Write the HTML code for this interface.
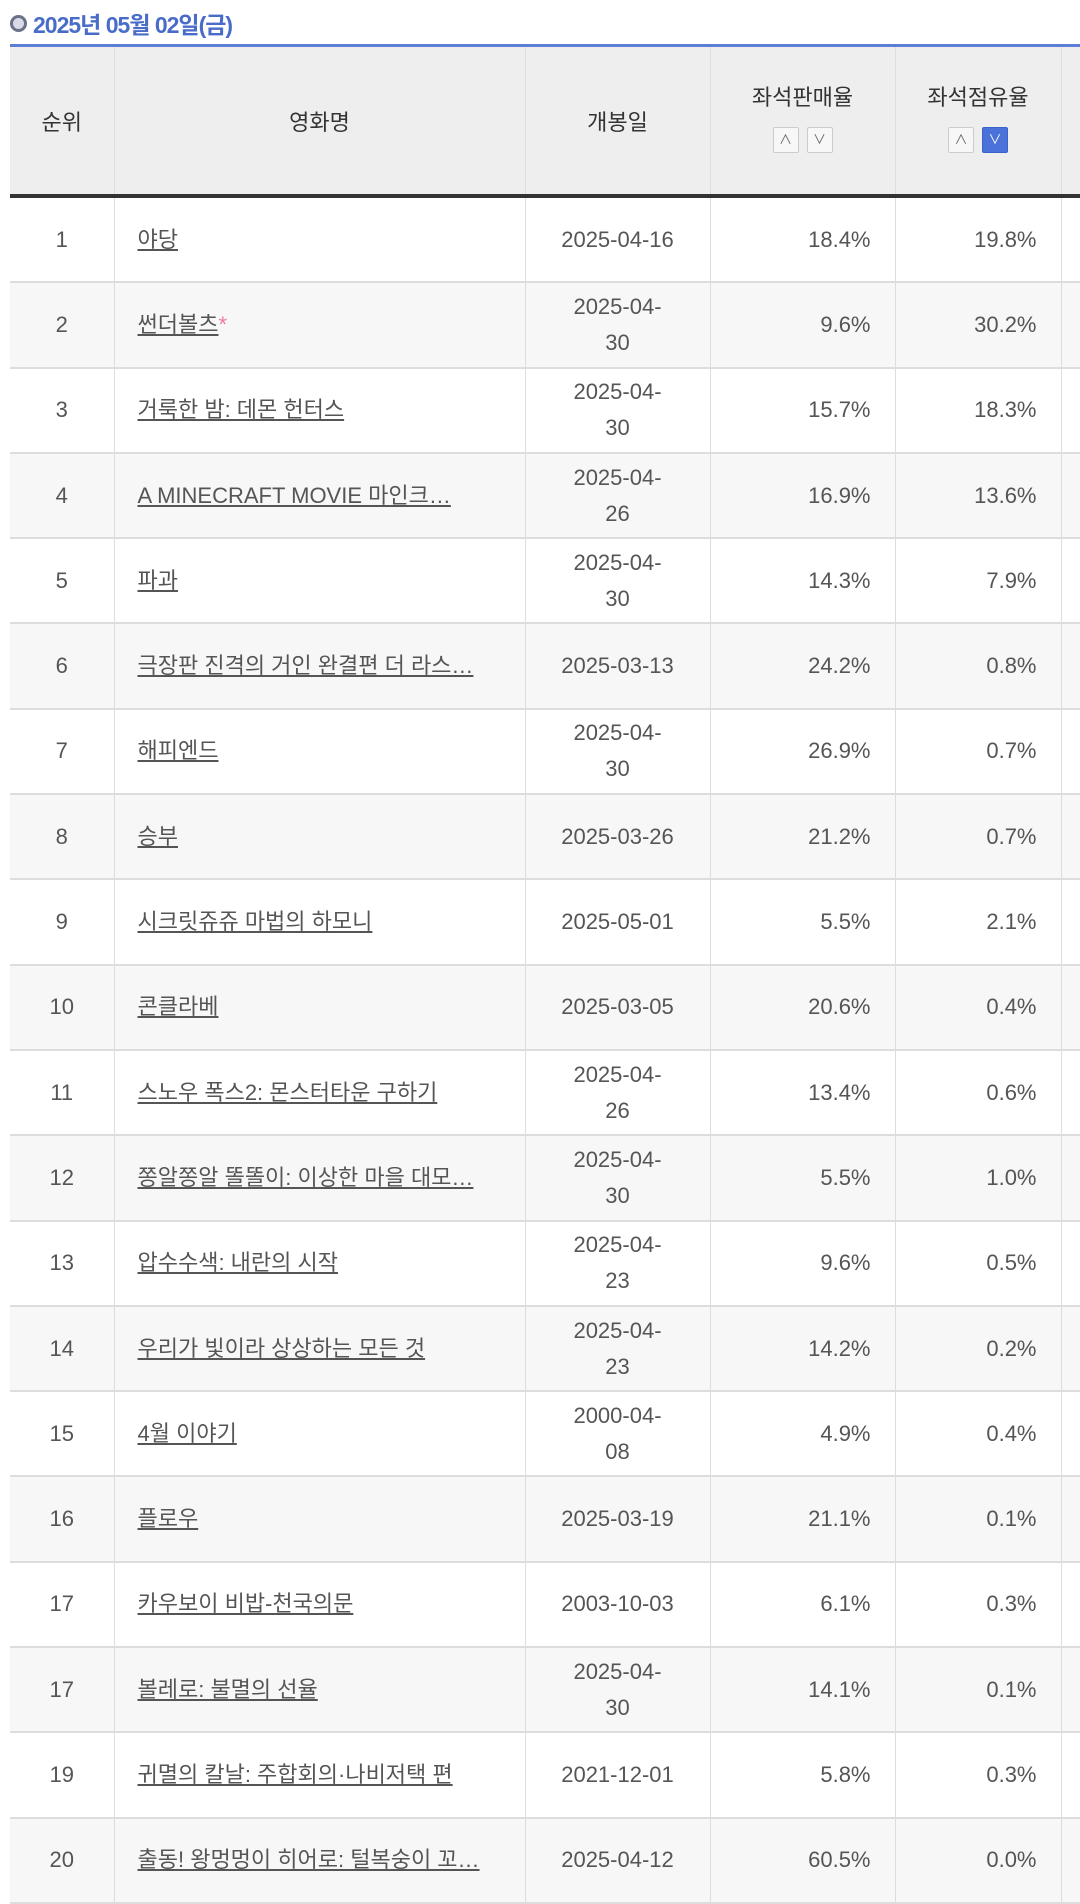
<!DOCTYPE html>
<html><head><meta charset="utf-8"><style>
body{margin:0;background:#fff;width:1080px;height:1897px;overflow:hidden;font-family:"Liberation Sans","Noto Sans CJK KR",sans-serif;color:#555}
.title{position:absolute;left:10px;top:6px;font-size:23px;font-weight:bold;color:#4a6cc9;letter-spacing:-1px}
.title .c{display:inline-block;width:11px;height:11px;border:3px solid #6a7289;border-radius:50%;background:#d8dbe6;vertical-align:1px;margin-right:6px}
table{position:absolute;left:10px;top:44px;border-collapse:collapse;table-layout:fixed;width:1070px}
th{background:#eee;border-top:3px solid #5b7fd6;border-bottom:4px solid #333;border-left:1px solid #ddd;font-weight:normal;font-size:22px;color:#333;height:147px;padding:0}
td{border-bottom:2px solid #ddd;border-left:1px solid #ddd;height:83.3px;font-size:22px;padding:0 24px;line-height:36px;background:#fff}
tr:nth-child(odd) td{background:#f7f7f7}
td:first-child,th:first-child{border-left:none}
td.r{text-align:center;padding:0}
td.d{text-align:center;padding:0}
td.n{text-align:right}
td.t{padding-left:23px;white-space:nowrap;overflow:hidden}
td.t u{color:#555}
.btn{display:inline-block;width:24px;height:24px;border:1px solid #ccc;background:#f7f7f7;border-radius:2px;font-size:13px;line-height:24px;color:#666;margin:0 4px;vertical-align:middle}
.btn.on{background:#4a72d8;border-color:#3a62c8;color:#fff}
.star{color:#f07aa0}
</style></head><body>
<div class="title"><span class="c"></span>2025년 05월 02일(금)</div>
<table>
<colgroup><col style="width:104px"><col style="width:411px"><col style="width:185px"><col style="width:185px"><col style="width:166px"><col></colgroup>
<tr><th>순위</th><th>영화명</th><th>개봉일</th><th><div style="margin-top:-8px">좌석판매율</div><div style="margin-top:14px"><span class="btn">∧</span><span class="btn">∨</span></div></th><th><div style="margin-top:-8px">좌석점유율</div><div style="margin-top:14px"><span class="btn">∧</span><span class="btn on">∨</span></div></th><th></th></tr>
<tr><td class="r">1</td><td class="t"><u>야당</u></td><td class="d">2025-04-16</td><td class="n">18.4%</td><td class="n">19.8%</td><td></td></tr>
<tr><td class="r">2</td><td class="t"><u>썬더볼츠</u><span class="star">*</span></td><td class="d">2025-04-<br>30</td><td class="n">9.6%</td><td class="n">30.2%</td><td></td></tr>
<tr><td class="r">3</td><td class="t"><u>거룩한 밤: 데몬 헌터스</u></td><td class="d">2025-04-<br>30</td><td class="n">15.7%</td><td class="n">18.3%</td><td></td></tr>
<tr><td class="r">4</td><td class="t"><u>A MINECRAFT MOVIE 마인크…</u></td><td class="d">2025-04-<br>26</td><td class="n">16.9%</td><td class="n">13.6%</td><td></td></tr>
<tr><td class="r">5</td><td class="t"><u>파과</u></td><td class="d">2025-04-<br>30</td><td class="n">14.3%</td><td class="n">7.9%</td><td></td></tr>
<tr><td class="r">6</td><td class="t"><u>극장판 진격의 거인 완결편 더 라스…</u></td><td class="d">2025-03-13</td><td class="n">24.2%</td><td class="n">0.8%</td><td></td></tr>
<tr><td class="r">7</td><td class="t"><u>해피엔드</u></td><td class="d">2025-04-<br>30</td><td class="n">26.9%</td><td class="n">0.7%</td><td></td></tr>
<tr><td class="r">8</td><td class="t"><u>승부</u></td><td class="d">2025-03-26</td><td class="n">21.2%</td><td class="n">0.7%</td><td></td></tr>
<tr><td class="r">9</td><td class="t"><u>시크릿쥬쥬 마법의 하모니</u></td><td class="d">2025-05-01</td><td class="n">5.5%</td><td class="n">2.1%</td><td></td></tr>
<tr><td class="r">10</td><td class="t"><u>콘클라베</u></td><td class="d">2025-03-05</td><td class="n">20.6%</td><td class="n">0.4%</td><td></td></tr>
<tr><td class="r">11</td><td class="t"><u>스노우 폭스2: 몬스터타운 구하기</u></td><td class="d">2025-04-<br>26</td><td class="n">13.4%</td><td class="n">0.6%</td><td></td></tr>
<tr><td class="r">12</td><td class="t"><u>쫑알쫑알 똘똘이: 이상한 마을 대모…</u></td><td class="d">2025-04-<br>30</td><td class="n">5.5%</td><td class="n">1.0%</td><td></td></tr>
<tr><td class="r">13</td><td class="t"><u>압수수색: 내란의 시작</u></td><td class="d">2025-04-<br>23</td><td class="n">9.6%</td><td class="n">0.5%</td><td></td></tr>
<tr><td class="r">14</td><td class="t"><u>우리가 빛이라 상상하는 모든 것</u></td><td class="d">2025-04-<br>23</td><td class="n">14.2%</td><td class="n">0.2%</td><td></td></tr>
<tr><td class="r">15</td><td class="t"><u>4월 이야기</u></td><td class="d">2000-04-<br>08</td><td class="n">4.9%</td><td class="n">0.4%</td><td></td></tr>
<tr><td class="r">16</td><td class="t"><u>플로우</u></td><td class="d">2025-03-19</td><td class="n">21.1%</td><td class="n">0.1%</td><td></td></tr>
<tr><td class="r">17</td><td class="t"><u>카우보이 비밥-천국의문</u></td><td class="d">2003-10-03</td><td class="n">6.1%</td><td class="n">0.3%</td><td></td></tr>
<tr><td class="r">17</td><td class="t"><u>볼레로: 불멸의 선율</u></td><td class="d">2025-04-<br>30</td><td class="n">14.1%</td><td class="n">0.1%</td><td></td></tr>
<tr><td class="r">19</td><td class="t"><u>귀멸의 칼날: 주합회의·나비저택 편</u></td><td class="d">2021-12-01</td><td class="n">5.8%</td><td class="n">0.3%</td><td></td></tr>
<tr><td class="r">20</td><td class="t"><u>출동! 왕멍멍이 히어로: 털복숭이 꼬…</u></td><td class="d">2025-04-12</td><td class="n">60.5%</td><td class="n">0.0%</td><td></td></tr>
</table>
</body></html>
